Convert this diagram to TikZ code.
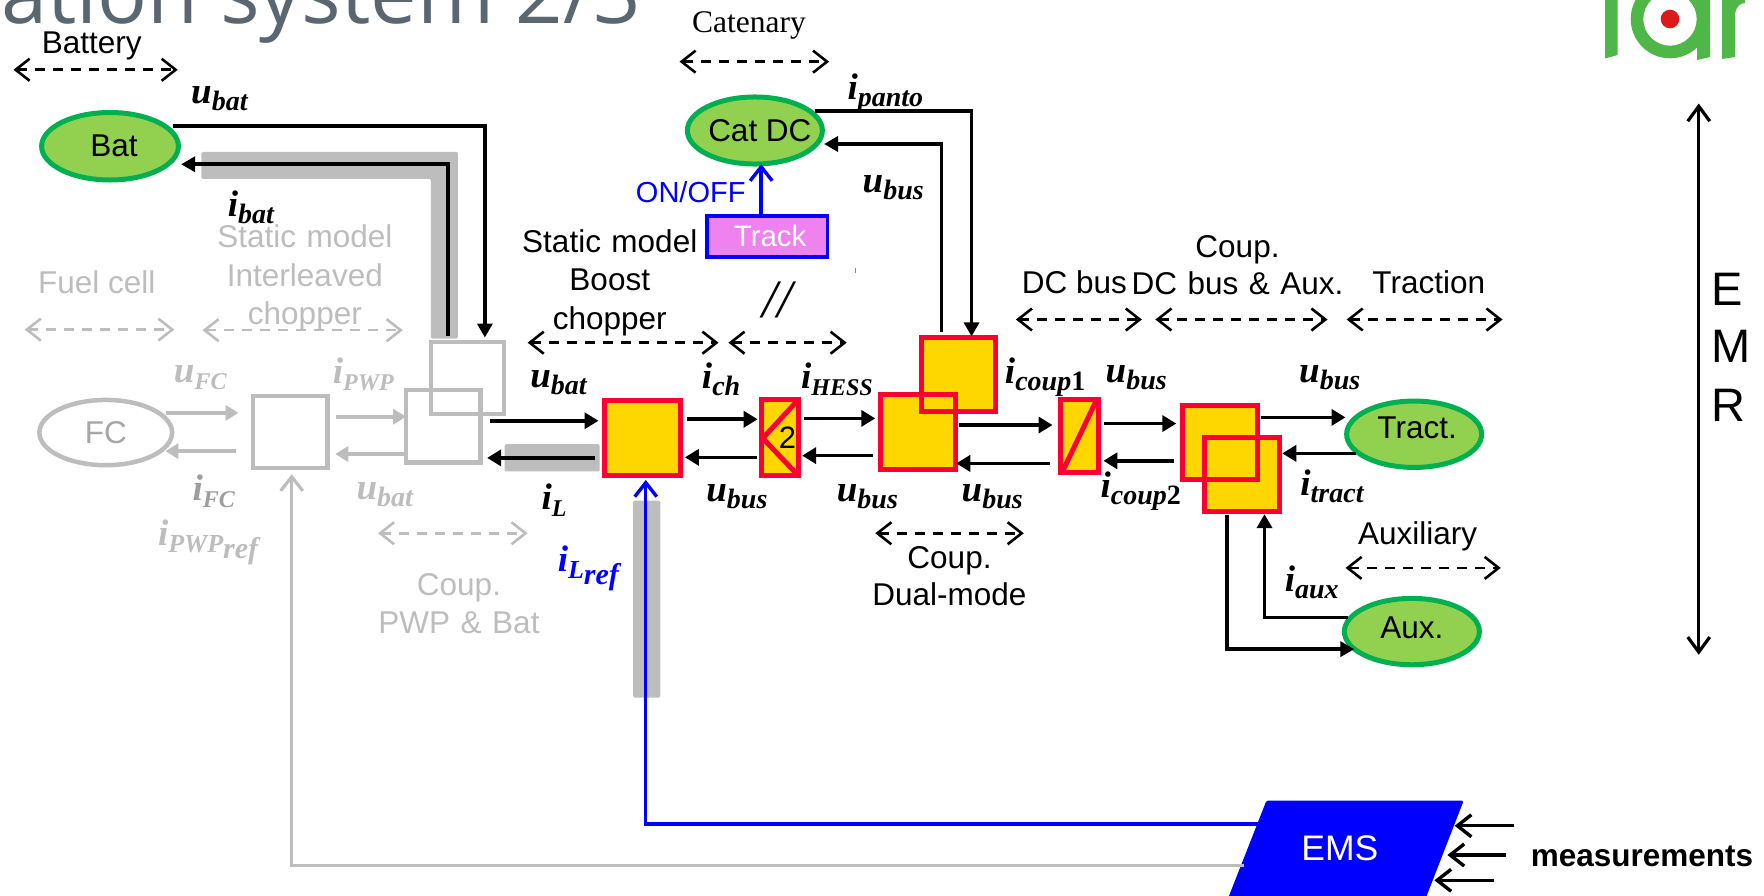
\documentclass[tikz,border=0pt]{standalone}
\usepackage{fontspec}
\usetikzlibrary{arrows.meta,shapes.geometric}
\setmainfont{Liberation Sans}
\newfontfamily\serf{Liberation Serif}
\newfontfamily\ttlf{Open Sans}
\newcommand\fsz[1]{\fontsize{#1}{#1}\selectfont}
\newcommand\lb[2]{{\serf\bfseries\itshape\fsz{37}#1\raisebox{-7pt}{\fsz{28}#2}}}
\newcommand\lbc[2]{{\serf\bfseries\itshape\fsz{37}#1\raisebox{-7pt}{\fsz{24}#2}}}
\newcommand\lbs[3]{{\serf\bfseries\itshape\fsz{37}#1\raisebox{-7pt}{\fsz{26}#2\raisebox{-6pt}{\fsz{30}#3}}}}
\newcommand\ctr[3]{\makebox[0pt]{\hspace*{#1}\raisebox{#2}{#3}}}
\definecolor{fadeg}{HTML}{BDBDBD}
\definecolor{rd}{HTML}{FA0032}
\definecolor{yl}{HTML}{FFD700}
\definecolor{lgreen}{HTML}{92D050}
\definecolor{dgreen}{HTML}{00B050}
\definecolor{logog}{HTML}{4FB748}
\definecolor{titleg}{HTML}{5B6770}
\definecolor{trk}{HTML}{EE82EE}
\tikzset{
 x=1.125pt,y=-1.125pt,
 emrbox/.style 2 args={draw=rd,fill=yl,line width=5pt,inner sep=0,outer sep=0,minimum width=#1*1.125pt,minimum height=#2*1.125pt},
 emrline/.style 2 args={draw=rd,line width=5pt,inner sep=0,outer sep=0,minimum width=#1*1.125pt,minimum height=#2*1.125pt},
 fadebox/.style 2 args={draw=fadeg,line width=4.5pt,inner sep=0,outer sep=0,minimum width=#1*1.125pt,minimum height=#2*1.125pt},
 src/.style 2 args={ellipse,draw=dgreen,fill=lgreen,line width=5pt,inner sep=0,outer sep=0,minimum width=#1*1.125pt,minimum height=#2*1.125pt},
 txt/.style={inner sep=0,outer sep=0,align=center,font=\fsz{31.5},text=black},
 ftxt/.style={txt,text=fadeg},
 lab/.style={inner sep=0,outer sep=0},
 arr/.style={draw=black,line width=3.6pt,-{Triangle[length=14pt,width=16pt]}},
 thin arr/.style={draw=black,line width=3.6pt,-{Triangle[length=14pt,width=15pt]}},
 farr/.style={draw=fadeg,line width=3.6pt,-{Triangle[length=13pt,width=15pt]}},
 dim/.style={draw=black,line width=2.6pt,dash pattern=on 10pt off 8pt,{Straight Barb[length=14pt,width=22pt,line width=2.6pt]}-{Straight Barb[length=14pt,width=22pt,line width=2.6pt]}},
 fdim/.style={dim,draw=fadeg},
 bar/.style={fill=fadeg,rounded corners=1.5pt},
 open/.style={line width=3.4pt,-{Straight Barb[length=14pt,width=22pt,line width=3.4pt]}},
}
\begin{document}
\begin{tikzpicture}
\path[use as bounding box] (0,0) rectangle (1568,796.44);
\begin{scope}
\clip (0,0) rectangle (1568,796.44);
% title
\node[lab,anchor=base west,text=titleg,font=\ttlf\fsz{83}] (title) at (1,21) {ation system 2/3};
% logo
\begin{scope}[x=1pt,y=-1pt]
 \fill[logog] (1605,-1) -- (1617.7,-1) -- (1617.7,55) -- (1605,58.5) -- cycle;
 \fill[logog,even odd rule] (1670,19) circle (39.3pt) (1670,19) circle (26.7pt);
 \fill[logog] (1697,-1) -- (1710,-1) -- (1710,57) -- (1697,60) -- cycle;
 \fill[logog] (1722,-1) -- (1735,-1) -- (1735,57) -- (1722,59) -- cycle;
 \fill[logog] (1735,14) .. controls (1736,6) and (1741,3) .. (1745,3) -- (1745,-1) -- (1731,-1) -- cycle;
 \fill[red!85!black!90!white] (1670,19) circle (9.3pt);
\end{scope}
% thick grey highlights
\fill[bar] (179,135) -- (407,135) -- (407,301) -- (383,301) -- (383,159) -- (179,159) -- cycle;
\fill[bar] (448.5,394.7) rectangle (533,419);
\fill[bar] (562.7,445) rectangle (587,620);
% faded blocks
\node[ellipse,draw=fadeg,line width=4.5pt,inner sep=0,outer sep=0,minimum width=118*1.125pt,minimum height=58*1.125pt,font=\fsz{31.5},text=black!35] (fc) at (94,384.5) {\ctr{0pt}{0pt}{FC}};
\node[fadebox={66}{64}] (pwp) at (258,384) {};
\node[fadebox={65}{64}] (cupper) at (415.5,336) {};
\node[fadebox={66}{64.5}] (clower) at (394,379) {};
% sources
\node[src={121.6}{60},font=\fsz{31.5}] (bat) at (97.8,130) {\ctr{8pt}{0pt}{Bat}};
\node[src={120}{59.6},font=\fsz{31.5}] (cat) at (671,116) {\ctr{10pt}{0pt}{Cat DC}};
\node[src={120}{59},font=\fsz{31.5}] (tract) at (1257,386) {\ctr{6pt}{14pt}{Tract.}};
\node[src={120}{59},font=\fsz{31.5}] (aux) at (1255,561.4) {\ctr{0pt}{8pt}{Aux.}};
% conversion blocks
\node[emrbox={68}{67}] (boost) at (571,389.5) {};
\node[emrbox={33.5}{67.6}] (par) at (693.25,388.8) {};
\draw[rd,line width=5pt] (708,357) -- (678,389.6) -- (708,421);
\node[lab,font=\fsz{31}] (two) at (700,388.7) {2};
\node[emrbox={66}{65.6}] (dupper) at (852,332.6) {};
\node[emrbox={66}{66.6}] (dlower) at (816,383.7) {};
\node[emrline={66}{65.6}] (duline) at (852,332.6) {};
\node[emrbox={34}{65}] (cp1) at (959.5,387.5) {};
\draw[rd,line width=5pt] (974,357) -- (945,418);
\node[emrbox={66.6}{65.7}] (ba) at (1084.7,393.5) {};
\node[emrbox={66}{66}] (bb) at (1104,421.5) {};
\node[emrline={66.6}{65.7}] (baline) at (1084.7,393.5) {};
% track
\node[draw=blue,fill=trk,line width=3.6pt,inner sep=0,outer sep=0,minimum width=107*1.125pt,minimum height=36.5*1.125pt,text=white,font=\fsz{29.5}] (track) at (681.9,210) {\ctr{6pt}{0pt}{Track}};
% EMS
\fill[blue,rounded corners=1.5pt] (1125.7,711.7) -- (1301,711.7) -- (1266.7,800) -- (1091,800) -- cycle;
\node[lab,text=white,font=\fsz{35.5}] (ems) at (1191,754) {EMS};
% coordinates
\coordinate (b1) at (154,112); \coordinate (b2) at (431,112); \coordinate (b3) at (431,300);
\coordinate (c1) at (398,298.6); \coordinate (c2) at (398,146); \coordinate (c3) at (161,146);
\coordinate (p1) at (724.4,98.4); \coordinate (p2) at (863.6,98.4); \coordinate (p3) at (863.6,299);
\coordinate (q1) at (837,295); \coordinate (q2) at (837,128); \coordinate (q3) at (732.5,128);
\coordinate (g1) at (1106,769.5); \coordinate (g2) at (259.3,769.5); \coordinate (g3) at (259.3,421.5);
\coordinate (m1) at (1118,732.6); \coordinate (m2) at (574,732.6); \coordinate (m3) at (574,426.6);
% faded connectors
\draw[farr] (147.6,367) -- (212,367);
\draw[farr] (210,401) -- (147,401);
\draw[farr] (299,370.4) -- (361,370.4);
\draw[farr] (359,403.6) -- (298,403.6);
\draw[fadeg,line width=3.2pt,-{Straight Barb[length=14pt,width=22pt,line width=3.2pt]}] (g1) -- (g2) -- (g3);
% battery connectors
\draw[thin arr] (b1) -- (b2) -- (b3);
\draw[thin arr] (c1) -- (c2) -- (c3);
% chain connectors
\draw[arr] (435.5,374) -- (532,374);
\draw[arr] (529,407) -- (433,407);
\draw[arr] (610.6,372.7) -- (673.5,372.7);
\draw[arr] (672.8,406.5) -- (608.8,406.5);
\draw[arr] (715,371.9) -- (778,371.9);
\draw[arr] (776.4,405) -- (713,405);
\draw[arr] (852,377.8) -- (935.6,377.8);
\draw[arr] (933.5,411.9) -- (850,411.9);
\draw[arr] (981.6,376.5) -- (1045.6,376.5);
\draw[arr] (1043.7,409.6) -- (980.8,409.6);
\draw[arr] (1121,371) -- (1196,371);
\draw[arr] (1205.7,403) -- (1139.8,403);
% catenary connectors
\draw[thin arr] (p1) -- (p2) -- (p3);
\draw[thin arr] (q1) -- (q2) -- (q3);
% aux connectors
\draw[thin arr] (1198,549) -- (1124,549) -- (1124,457);
\draw[thin arr] (1090.8,458) -- (1090.8,577) -- (1203.8,577);
% control connectors
\draw[open,blue] (m1) -- (m2) -- (m3);
\draw[open,blue] (track.north -| 676.6,0) -- (cat.south -| 676.6,0);
\draw[open,black] (1346,734) -- (1293,734);
\draw[open,black] (1339,760) -- (1286.6,760);
\draw[open,black] (1328,782.5) -- (1275,782.5);
\draw[draw=black,line width=3.2pt,{Straight Barb[length=15pt,width=22pt,line width=3.2pt]}-{Straight Barb[length=15pt,width=22pt,line width=3.2pt]}] (1510,92) -- (1510,582);
% dimension arrows
\draw[dim] (12,62) -- (158,62);
\draw[dim] (604,54.8) -- (737,54.8);
\draw[dim] (469,304.6) -- (638.7,304.6);
\draw[dim] (647.5,304.6) -- (752.6,304.6);
\draw[dim] (903,284) -- (1015,284);
\draw[dim] (1027,284) -- (1180,284);
\draw[dim] (1197,284) -- (1335.6,284);
\draw[dim] (1196,504.8) -- (1334,504.8);
\draw[dim] (778,474) -- (910,474);
\draw[fdim] (22,293) -- (155,293);
\draw[fdim] (180,293.5) -- (358,293.5);
\draw[fdim] (336,474) -- (469,474);
% tiny mark
\fill[black!45] (760.2,238.6) rectangle (761,242.4);
% texts
\node[txt] (tbat) at (81.5,41) {Battery};
\node[txt,font=\serf\fsz{31.5}] (tcat) at (665.8,23) {Catenary};
\node[txt,text=blue,font=\fsz{29}] (onoff) at (614,171) {ON/OFF};
\node[txt,text width=250pt] (tboost) at (542,251) {Static model\\[7pt]Boost\\[7pt]chopper};
\node[txt,font=\serf\itshape\fsz{54}] (tpar) at (691.4,266.7) {//};
\node[txt] (tdc) at (955,251) {DC bus};
\node[txt,text width=300pt] (tcoup) at (1100,235.5) {Coup.\\[5pt]DC bus \& Aux.};
\node[txt] (ttr) at (1270,251) {Traction};
\node[txt] (taux) at (1260,477) {Auxiliary};
\node[txt,text width=200pt] (tdual) at (844,512) {Coup.\\[6pt]Dual-mode};
\node[ftxt] (tfc) at (86,251) {Fuel cell};
\node[ftxt,text width=250pt] (tint) at (271,247) {Static model\\[7pt]Interleaved\\[7pt]chopper};
\node[ftxt,text width=250pt] (tpb) at (408,536.5) {Coup.\\[6pt]PWP \& Bat};
\node[lab,font=\bfseries\fsz{31.5}] (tmeas) at (1459.5,761) {measurements};
\node[lab,anchor=west,font=\fsz{47}] (te) at (1521,257) {E};
\node[lab,anchor=west,font=\fsz{47}] (tm) at (1521,307.6) {M};
\node[lab,anchor=west,font=\fsz{47}] (tr) at (1521,360.5) {R};
% signal labels
\node[lab] (l1) at (195,88) {\lb{u}{bat}};
\node[lab] (l2) at (223,184) {\lb{i}{bat}};
\node[lab] (l3) at (787,83) {\lb{i}{panto}};
\node[lab] (l4) at (794,167) {\lb{u}{bus}};
\node[lab] (l5) at (496.4,340) {\lb{u}{bat}};
\node[lab] (l6) at (641,337) {\lb{i}{ch}};
\node[lab] (l7) at (744,337) {\lbc{i}{HESS}};
\node[lab] (l8) at (929,335) {\lb{i}{coup\upshape 1}};
\node[lab] (l9) at (1010,336) {\lb{u}{bus}};
\node[lab] (l10) at (1182,336) {\lb{u}{bus}};
\node[lab] (l11) at (655,441.5) {\lb{u}{bus}};
\node[lab] (l12) at (771,441.5) {\lb{u}{bus}};
\node[lab] (l13) at (882,441.5) {\lb{u}{bus}};
\node[lab] (l14) at (492.5,445) {\lbc{i}{L}};
\node[lab] (l15) at (1014,437) {\lb{i}{coup\upshape 2}};
\node[lab] (l16) at (1184,432) {\lb{i}{tract}};
\node[lab] (l17) at (1166,518) {\lb{i}{aux}};
\node[lab,text=blue] (l18) at (523,505) {\lbs{i}{L}{ref}};
\node[lab,text=fadeg] (l19) at (178,336) {\lbc{u}{FC}};
\node[lab,text=fadeg] (l20) at (323,333) {\lbc{i}{PWP}};
\node[lab,text=black!38] (l21) at (190,437) {\lbc{i}{FC}};
\node[lab,text=fadeg] (l22) at (342,440) {\lb{u}{bat}};
\node[lab,text=fadeg] (l23) at (185,482) {\lbs{i}{PWP}{ref}};
\end{scope}
\end{tikzpicture}
\end{document}
